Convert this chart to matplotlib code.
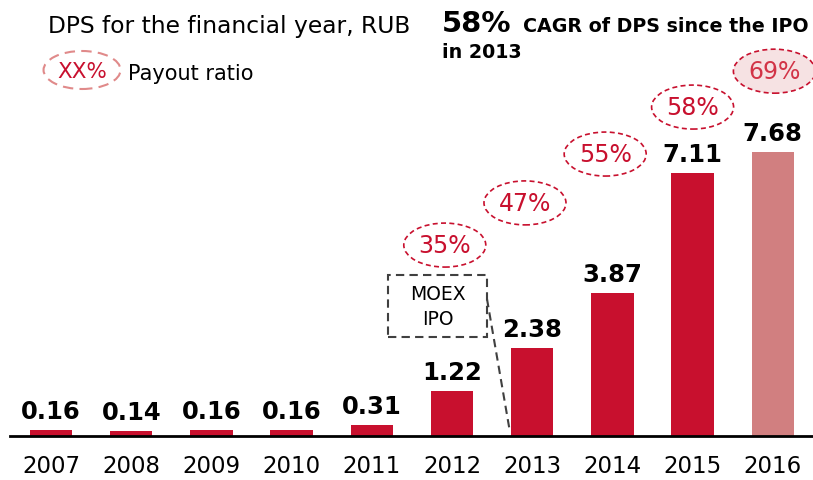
import matplotlib
matplotlib.use('Agg')
import matplotlib.pyplot as plt
import matplotlib.patches as patches

years = ['2007', '2008', '2009', '2010', '2011', '2012', '2013', '2014', '2015', '2016']
dps = [0.16, 0.14, 0.16, 0.16, 0.31, 1.22, 2.38, 3.87, 7.11, 7.68]
payout_years = ['2012', '2013', '2014', '2015', '2016']
payout = ['35%', '47%', '55%', '58%', '69%']

RED = '#c8102e'
PALE = '#d17f80'
W, H = 813, 481
PX_X = 80.2   # px per bar slot
PX_Y = 37.0   # px per RUB

fig = plt.figure(figsize=(W / 100, H / 100), dpi=100)
ax = fig.add_axes([0, 44 / H, 1, 1 - 44 / H])
x0 = -51 / PX_X
ax.set_xlim(x0, x0 + W / PX_X)
ax.set_ylim(0, (H - 44) / PX_Y)

xs = list(range(len(years)))
colors = [RED] * (len(years) - 1) + [PALE]
ax.bar(xs, dps, width=0.53, color=colors)

for x, v in zip(xs, dps):
    ax.annotate(f'{v:.2f}', (x, v), xytext=(0, 8.5), textcoords='offset points',
                ha='center', va='baseline', fontsize=17.5, fontweight='bold')

for s in ['top', 'right', 'left']:
    ax.spines[s].set_visible(False)
ax.spines['bottom'].set_linewidth(2)
ax.spines['bottom'].set_bounds(x0 + 10 / PX_X, x0 + W / PX_X)
ax.set_yticks([])
ax.set_xticks(xs)
ax.set_xticklabels(years, fontsize=16.5)
ax.tick_params(axis='x', length=0, pad=13)

# payout ratio bubbles
ell_dx = [-0.09, -0.09, -0.09, 0.0, 0.02]
ell_y = [5.16, 6.30, 7.62, 8.89, 9.86]
for i, (yr, p) in enumerate(zip(payout_years, payout)):
    xc = years.index(yr) + ell_dx[i]
    last = i == len(payout) - 1
    e = patches.Ellipse((xc, ell_y[i]), 82 / PX_X, 44 / PX_Y,
                        facecolor='#f6e2e3' if last else 'white',
                        edgecolor=RED, lw=1.2, ls=(0, (3, 2)), zorder=3)
    ax.add_patch(e)
    ax.text(xc, ell_y[i], p, ha='center', va='center', fontsize=17,
            color='#d23447' if last else RED, zorder=4)

# MOEX IPO box
bx0, bx1 = (388 - 51) / PX_X, (487 - 51) / PX_X
by0, by1 = (437 - 338) / PX_Y, (437 - 276) / PX_Y
ax.add_patch(patches.Rectangle((bx0, by0), bx1 - bx0, by1 - by0, fill=False,
                               edgecolor='#404040', lw=1.5, ls=(0, (4, 2.5))))
ax.text((bx0 + bx1) / 2, (by0 + by1) / 2, 'MOEX\nIPO', ha='center', va='center',
        fontsize=13.5, linespacing=1.45)
ax.plot([bx1, (510 - 51) / PX_X], [(437 - 300) / PX_Y, 0.1], color='#404040',
        lw=1.5, ls=(0, (4, 2.5)))

# header texts
def fx(px):
    return px / W

def fy(py):
    return 1 - py / H

fig.text(fx(48), fy(33), 'DPS for the financial year, RUB', fontsize=16.8, va='baseline')
ax.add_patch(patches.Ellipse((0.387, (437 - 71) / PX_Y), 77 / PX_X, 38 / PX_Y,
                             facecolor='white', edgecolor='#e08a8a', lw=1.5,
                             ls=(0, (5, 3))))
ax.text(0.387, (437 - 72) / PX_Y, 'XX%', ha='center', va='center', fontsize=15.5, color=RED)
fig.text(fx(128), fy(80), 'Payout ratio', fontsize=15, va='baseline')

fig.text(fx(442), fy(32), '58%', fontsize=21, fontweight='bold', va='baseline')
fig.text(fx(523), fy(32), 'CAGR of DPS since the IPO', fontsize=13.7,
         fontweight='bold', va='baseline')
fig.text(fx(442), fy(58), 'in 2013', fontsize=13.7, fontweight='bold', va='baseline')

fig.savefig('out.png', dpi=100)
